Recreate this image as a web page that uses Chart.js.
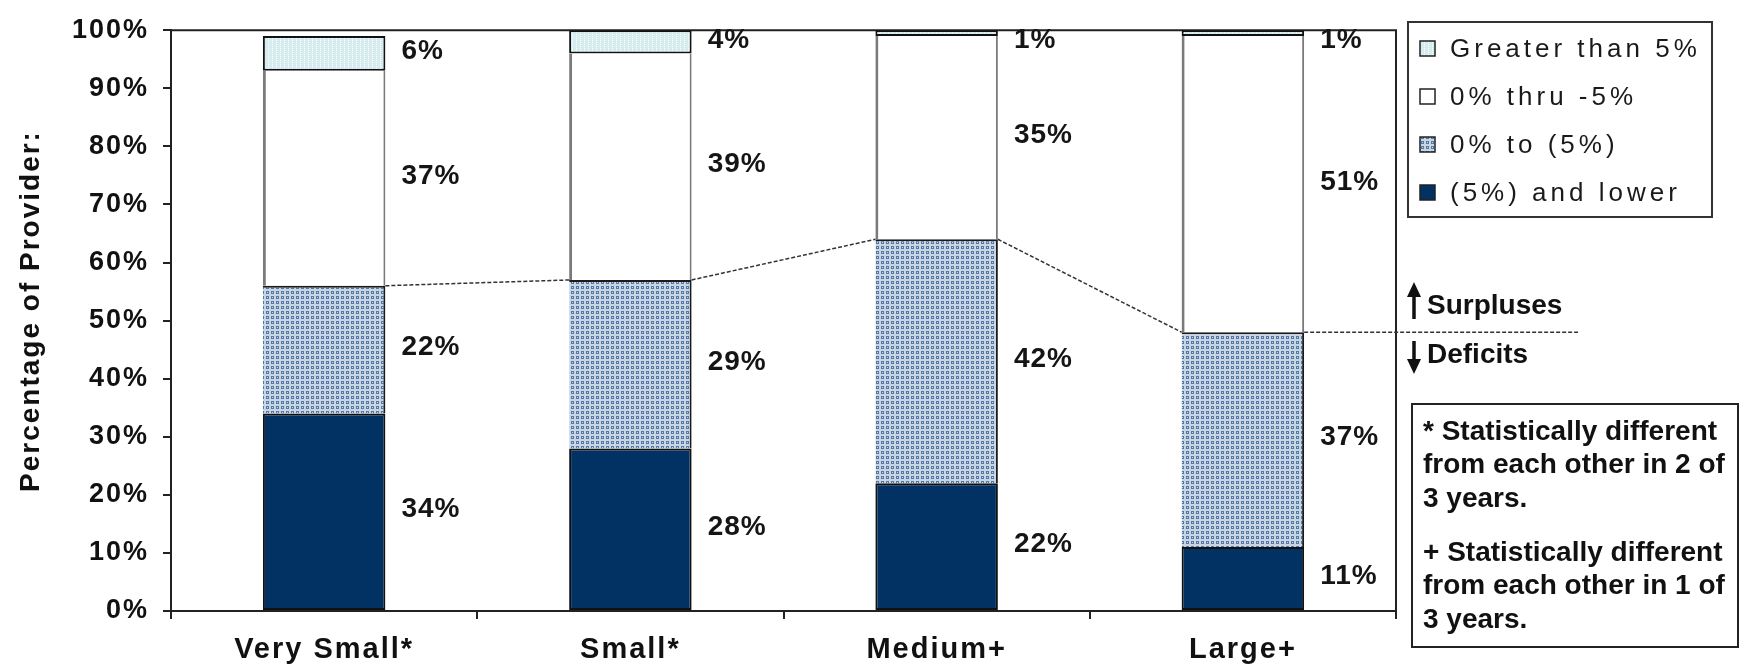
<!DOCTYPE html>
<html>
<head>
<meta charset="utf-8">
<script src="https://cdn.jsdelivr.net/npm/chart.js@4/dist/chart.umd.min.js"></script>
<style>
  html, body { margin: 0; padding: 0; background: #ffffff; }
  canvas { display: block; }
</style>
</head>
<body>
<canvas id="chart" width="1740" height="666"></canvas>
<script>
// Provider size groups on the category axis
const categories = ['Very Small*', 'Small*', 'Medium+', 'Large+'];

// Share of providers (%) in each operating-margin band, bottom to top
const deepDeficit  = [34, 28, 22, 11];   // (5%) and lower
const smallDeficit = [22, 29, 42, 37];   // 0% to (5%)
const smallSurplus = [37, 39, 35, 51];   // 0% thru -5%
const largeSurplus = [6, 4, 1, 1];       // Greater than 5%

const seriesNames = ['(5%) and lower', '0% to (5%)', '0% thru -5%', 'Greater than 5%'];
const yTickValues = [0, 10, 20, 30, 40, 50, 60, 70, 80, 90, 100];
const yTitle = 'Percentage of Provider:';
const surplusText = 'Surpluses';
const deficitText = 'Deficits';
const footnoteLines = [
  ['* Statistically different', 'from each other in 2 of', '3 years.'],
  ['+ Statistically different', 'from each other in 1 of', '3 years.']
];

const FONT = '"Liberation Sans", Arial, Helvetica, sans-serif';

// Small tiled fills for the hatched segments
function makePattern(w, h, bg, fg, cells) {
  const c = document.createElement('canvas');
  c.width = w; c.height = h;
  const g = c.getContext('2d');
  g.fillStyle = bg; g.fillRect(0, 0, w, h);
  g.fillStyle = fg;
  cells.forEach(([x, y]) => g.fillRect(x, y, 1, 1));
  return g.createPattern(c, 'repeat');
}
const ringFill = makePattern(5, 5, '#c7d5e5', '#5679a4',
  [[1,1],[2,1],[3,1],[1,2],[3,2],[1,3],[2,3],[3,3]]);
const stripeFill = makePattern(4, 2, '#d6ecee', '#ffffff', [[0,0]]);

const fills = ['#013263', ringFill, '#ffffff', stripeFill];

const ctxMain = document.getElementById('chart').getContext('2d');

// Frame, connecting lines, value labels, legend and side notes
const decorations = {
  id: 'decorations',
  beforeDraw(chart) {
    chart.ctx.letterSpacing = '2px';
  },
  beforeDatasetsDraw(chart) {
    const { ctx, chartArea: a } = chart;
    ctx.save();
    ctx.strokeStyle = '#222';
    ctx.lineWidth = 2;
    ctx.beginPath();
    ctx.moveTo(a.left, a.top);
    ctx.lineTo(a.right, a.top);
    ctx.lineTo(a.right, a.bottom + 8);
    ctx.stroke();

    // rotated value-axis title
    ctx.letterSpacing = '2px';
    ctx.font = 'bold 28px ' + FONT;
    ctx.fillStyle = '#111';
    ctx.textAlign = 'center';
    ctx.textBaseline = 'middle';
    ctx.translate(31, 311);
    ctx.rotate(-Math.PI / 2);
    ctx.fillText(yTitle, 0, 0);
    ctx.restore();
  },
  afterDatasetsDraw(chart) {
    const { ctx, chartArea: a } = chart;
    ctx.save();
    // series lines joining the top of the deficit stack
    const meta = chart.getDatasetMeta(1);
    ctx.strokeStyle = '#333';
    ctx.lineWidth = 1.5;
    ctx.setLineDash([4, 2]);
    meta.data.forEach((el, i) => {
      const p = el.getProps(['x', 'y', 'width'], true);
      const xr = p.x + p.width / 2;
      let xEnd, yEnd;
      if (i < meta.data.length - 1) {
        const q = meta.data[i + 1].getProps(['x', 'y', 'width'], true);
        xEnd = q.x - q.width / 2; yEnd = q.y;
      } else {
        xEnd = a.right + 182; yEnd = p.y;
      }
      ctx.beginPath();
      ctx.moveTo(xr, p.y);
      ctx.lineTo(xEnd, yEnd);
      ctx.stroke();
    });
    ctx.setLineDash([]);

    // value labels to the right of each segment
    ctx.letterSpacing = '1px';
    ctx.font = 'bold 28px ' + FONT;
    ctx.fillStyle = '#151515';
    ctx.textAlign = 'left';
    ctx.textBaseline = 'middle';
    chart.data.datasets.forEach((ds, di) => {
      const m = chart.getDatasetMeta(di);
      m.data.forEach((el, i) => {
        const p = el.getProps(['x', 'y', 'base', 'width'], true);
        let y = (p.y + p.base) / 2 - 2;
        if (y < a.top + 10) y = a.top + 10;
        ctx.fillText(ds.data[i] + '%', p.x + p.width / 2 + 16, y);
      });
    });
    ctx.restore();
  },
  afterDraw(chart) {
    const { ctx } = chart;
    ctx.save();
    ctx.strokeStyle = '#333';
    ctx.lineWidth = 2;

    // legend box
    const lx = 1408, ly = 22, lw = 304, lh = 195;
    ctx.strokeRect(lx, ly, lw, lh);
    ctx.letterSpacing = '4px';
    ctx.font = '26px ' + FONT;
    ctx.textAlign = 'left';
    ctx.textBaseline = 'middle';
    const rows = chart.data.datasets.map((d, i) => i).reverse();
    rows.forEach((di, r) => {
      const ds = chart.data.datasets[di];
      const cy = 49 + r * 48;
      ctx.fillStyle = ds.backgroundColor;
      ctx.fillRect(1420, cy - 8, 15, 15);
      ctx.lineWidth = 1.5;
      ctx.strokeStyle = '#222';
      ctx.strokeRect(1420, cy - 8, 15, 15);
      ctx.fillStyle = '#1a1a1a';
      ctx.fillText(ds.label, 1450, cy + 1);
    });

    // surplus / deficit markers
    ctx.letterSpacing = '0px';
    ctx.fillStyle = '#111';
    ctx.strokeStyle = '#111';
    ctx.lineWidth = 3.5;
    const ax = 1414;
    ctx.beginPath(); ctx.moveTo(ax, 319); ctx.lineTo(ax, 292); ctx.stroke();
    ctx.beginPath(); ctx.moveTo(ax - 7, 297); ctx.lineTo(ax, 282); ctx.lineTo(ax + 7, 297); ctx.closePath(); ctx.fill();
    ctx.beginPath(); ctx.moveTo(ax, 341); ctx.lineTo(ax, 364); ctx.stroke();
    ctx.beginPath(); ctx.moveTo(ax - 7, 359); ctx.lineTo(ax, 374); ctx.lineTo(ax + 7, 359); ctx.closePath(); ctx.fill();
    ctx.font = 'bold 28px ' + FONT;
    ctx.textBaseline = 'middle';
    ctx.fillText(surplusText, 1427, 306);
    ctx.fillText(deficitText, 1427, 355);

    // footnote box
    ctx.lineWidth = 2;
    ctx.strokeStyle = '#222';
    ctx.strokeRect(1412, 404, 326, 243);
    ctx.font = 'bold 28px ' + FONT;
    const starts = [432, 553];
    footnoteLines.forEach((para, pi) => {
      para.forEach((line, li) => {
        ctx.fillText(line, 1423, starts[pi] + li * 33.5);
      });
    });
    ctx.restore();
    ctx.letterSpacing = '0px';
  }
};

function segment(label, data, fill, border, widths) {
  return {
    label: label,
    data: data,
    backgroundColor: fill,
    borderColor: border,
    borderWidth: widths,
    borderSkipped: false,
    categoryPercentage: 1.0,
    barPercentage: 0.4
  };
}

new Chart(ctxMain, {
  type: 'bar',
  data: {
    labels: categories,
    datasets: [
      segment(seriesNames[0], deepDeficit, fills[0], '#111', 2),
      segment(seriesNames[1], smallDeficit, fills[1], '#1a1a1a', { top: 2, right: 2, bottom: 0, left: 0 }),
      segment(seriesNames[2], smallSurplus, fills[2], '#7a7a7a', { top: 0, right: 2, bottom: 0, left: 3 }),
      segment(seriesNames[3], largeSurplus, fills[3], '#111', 2)
    ]
  },
  options: {
    responsive: false,
    animation: false,
    devicePixelRatio: 1,
    layout: { padding: { top: 24, right: 344, left: 0, bottom: 0 } },
    plugins: {
      legend: { display: false },
      tooltip: { enabled: false },
      title: { display: false }
    },
    scales: {
      x: {
        stacked: true,
        border: { color: '#222', width: 2 },
        grid: { drawOnChartArea: false, drawTicks: true, tickLength: 8, color: '#222', lineWidth: 2, offset: true },
        ticks: { color: '#111', padding: 14, font: { family: FONT, size: 29, weight: 'bold' } },
        afterFit(scale) { scale.height = 55; }
      },
      y: {
        stacked: true,
        min: 0,
        max: 100,
        border: { color: '#222', width: 2 },
        grid: { drawOnChartArea: false, drawTicks: true, tickLength: 8, color: '#222', lineWidth: 2 },
        afterBuildTicks(scale) { scale.ticks = yTickValues.map(v => ({ value: v })); },
        ticks: {
          color: '#111',
          padding: 14,
          font: { family: FONT, size: 27, weight: 'bold' },
          callback: v => v + '%'
        },
        afterFit(scale) { scale.width = 171; }
      }
    }
  },
  plugins: [decorations]
});
</script>
</body>
</html>
